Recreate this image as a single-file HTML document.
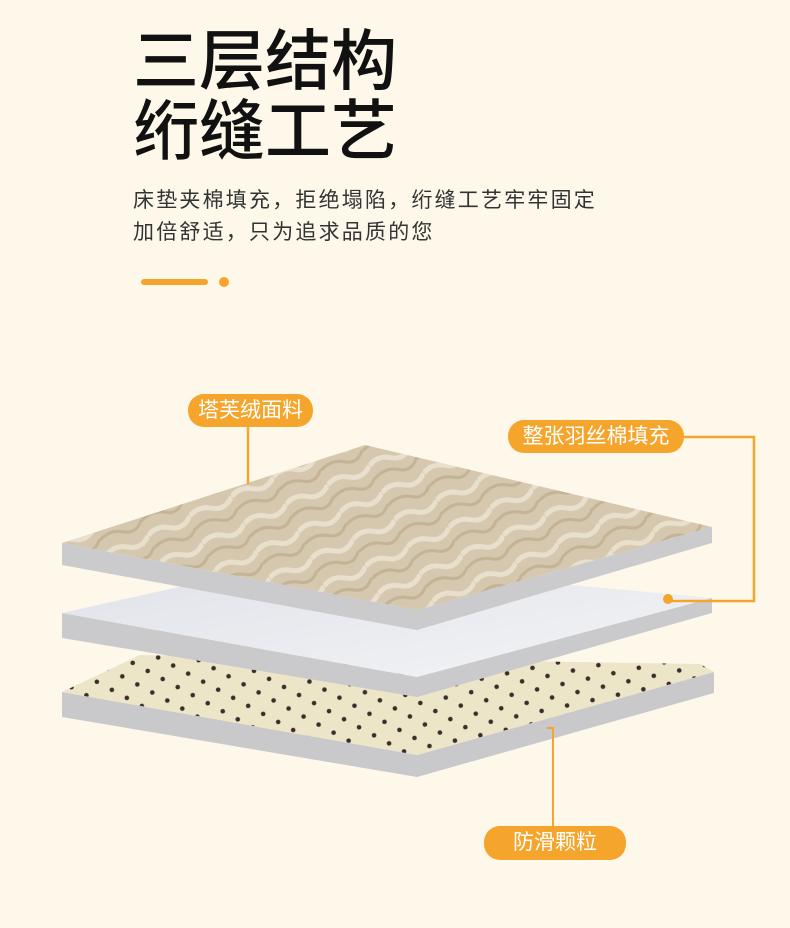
<!DOCTYPE html>
<html><head><meta charset="utf-8"><style>
body{margin:0;width:790px;height:928px;background:#fdf8ea;position:relative;overflow:hidden;font-family:"Liberation Sans","Noto Sans CJK SC",sans-serif}
.t{position:absolute;left:133px;font-size:66px;font-weight:500;color:#111;line-height:66px;letter-spacing:0px}
.s{position:absolute;left:133px;font-size:21px;color:#333;letter-spacing:2.2px;line-height:24px;white-space:nowrap}
.pill{position:absolute;background:#f5a52c;color:#fff;border-radius:16px;font-size:21px;text-align:center;white-space:nowrap}
</style></head><body>
<div class="t" style="top:28px">三层结构</div>
<div class="t" style="top:98px">绗缝工艺</div>
<div class="s" style="top:189px">床垫夹棉填充，拒绝塌陷，绗缝工艺牢牢固定</div>
<div class="s" style="top:221px">加倍舒适，只为追求品质的您</div>
<div style="position:absolute;left:141px;top:279px;width:67px;height:6px;border-radius:3px;background:#f5a52c"></div>
<div style="position:absolute;left:219px;top:277px;width:10px;height:10px;border-radius:5px;background:#f5a52c"></div>
<svg width="790" height="928" style="position:absolute;left:0;top:0">
<defs>
<pattern id="tx" width="46" height="30" patternUnits="userSpaceOnUse" patternTransform="rotate(-25)">
<rect width="46" height="30" fill="#d6c8ae"/>
<path d="M0 8 Q12 2 23 10 T46 8" stroke="#e9dfcd" stroke-width="5" fill="none"/>
<path d="M0 22 Q14 16 25 24 T46 21" stroke="#c4b497" stroke-width="3" fill="none"/>
</pattern>
<pattern id="dots" width="26" height="22" patternUnits="userSpaceOnUse" patternTransform="rotate(-12)">
<rect width="26" height="22" fill="#ece5c8"/>
<circle cx="5" cy="5" r="2.3" fill="#3a2e2a"/><circle cx="18" cy="16" r="2.3" fill="#3a2e2a"/>
</pattern>
<linearGradient id="wh" x1="0" y1="0" x2="1" y2="1"><stop offset="0" stop-color="#dfe2e8"/><stop offset="1" stop-color="#f3f4f7"/></linearGradient>
</defs>
<polygon points="62,692 417,755 714,672 714,693 417,777 62,717" fill="#c9c9cc"/>
<polygon points="62,692 140,655 700,664 714,672 417,755" fill="url(#dots)"/>
<polygon points="62,613 417,677 712,598 712,613 417,697 62,638" fill="#cacacd"/>
<polygon points="62,613 300,560 712,598 417,677" fill="url(#wh)"/>
<polygon points="62,543 417,610 712,527 712,543 417,630 62,565" fill="#cbcbce"/>
<polygon points="62,543 365,445 712,527 417,610" fill="url(#tx)"/>
<line x1="248" y1="427" x2="248" y2="484" stroke="#f5a52c" stroke-width="2.5"/>
<polyline points="684,437 754,437 754,601 668,601" fill="none" stroke="#f5a52c" stroke-width="2.5"/>
<circle cx="668" cy="599" r="5" fill="#f5a52c"/>
<polyline points="547,728 553,728 553,826" fill="none" stroke="#f5a52c" stroke-width="2"/>
</svg>
<div class="pill" style="left:188px;top:394px;width:125px;height:33px;line-height:33px">塔芙绒面料</div>
<div class="pill" style="left:508px;top:420px;width:176px;height:33px;line-height:33px">整张羽丝棉填充</div>
<div class="pill" style="left:484px;top:826px;width:142px;height:34px;line-height:34px">防滑颗粒</div>
</body></html>
